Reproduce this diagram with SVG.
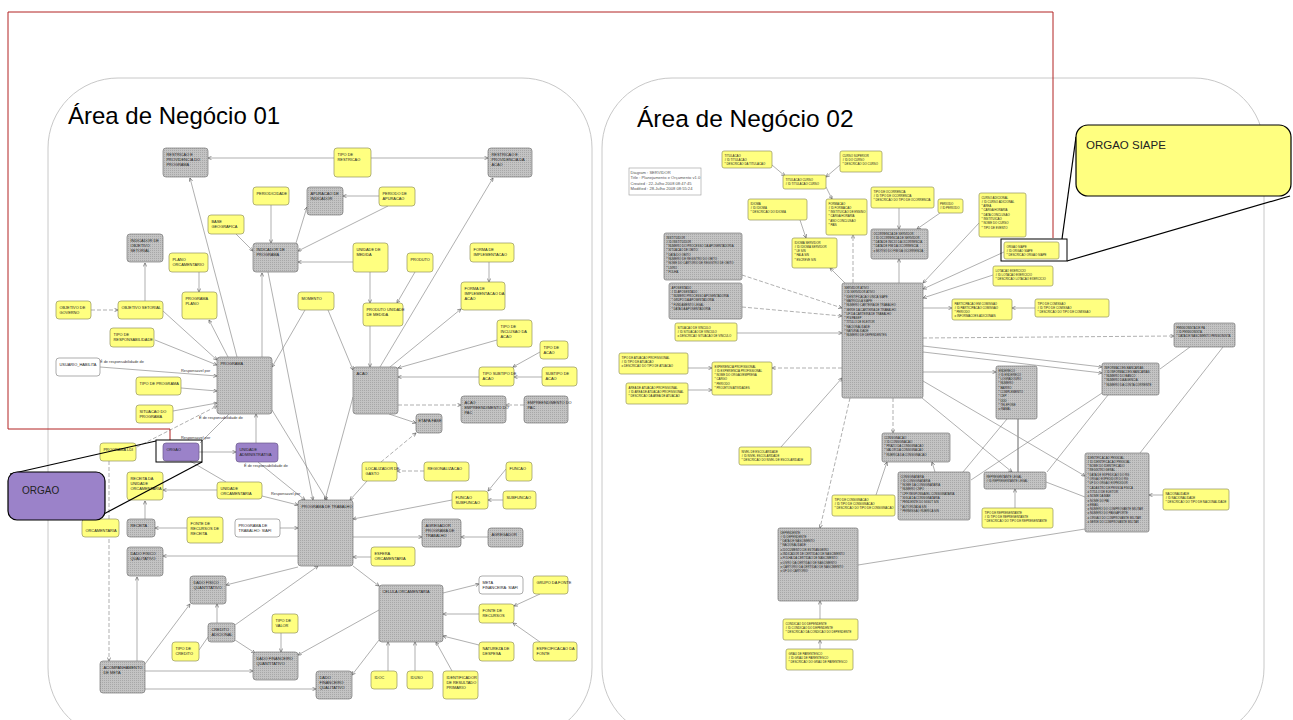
<svg xmlns="http://www.w3.org/2000/svg" width="1293" height="720" viewBox="0 0 1293 720">
<defs>
<pattern id="gp" width="2" height="2" patternUnits="userSpaceOnUse"><rect width="2" height="2" fill="#c3c3c3"/><rect width="1" height="1" fill="#a8a8a8"/></pattern>
<marker id="a" viewBox="0 0 6 6" refX="5.6" refY="3" markerWidth="4" markerHeight="4" orient="auto" markerUnits="userSpaceOnUse"><path d="M0.3,0.4 L5.6,3 L0.3,5.6" fill="none" stroke="#555" stroke-width="0.9"/></marker>
<style>
.g{fill:url(#gp);stroke:#7a7a7a;stroke-width:0.7}
.y{fill:#ffff80;stroke:#94945e;stroke-width:0.7}
.p{fill:#9b82c9;stroke:#6a5a8a;stroke-width:0.7}
.w{fill:#ffffff;stroke:#8a8a8a;stroke-width:0.7}
.t{font-family:"Liberation Sans",Arial,sans-serif;font-size:3.9px;fill:#222}
.r{font-family:"Liberation Sans",Arial,sans-serif;font-size:2.9px;fill:#222}
.lb{font-family:"Liberation Sans",Arial,sans-serif;font-size:3.9px;fill:#333}
.e{stroke:#7a7a7a;stroke-width:0.6;fill:none;marker-end:url(#a)}
.n{stroke:#7a7a7a;stroke-width:0.6;fill:none}
.d{stroke-dasharray:4 2}
.dbl{stroke:#a0a0a0;stroke-width:1.6;fill:none}
.panel{fill:none;stroke:#c8c8c8;stroke-width:1}
.co{stroke:#000;stroke-width:1.2;fill:none}
</style>
</defs>
<rect width="1293" height="720" fill="#fff"/>

<!-- panels -->
<rect class="panel" x="48" y="78" width="544" height="660" rx="70"/>
<rect class="panel" x="602" y="78" width="662" height="660" rx="70"/>
<text x="68" y="124" font-family="Liberation Sans, Arial, sans-serif" font-size="24" fill="#000">Área de Negócio 01</text>
<text x="637" y="127" font-family="Liberation Sans, Arial, sans-serif" font-size="24.5" fill="#000">Área de Negócio 02</text>

<!-- red frame -->
<path d="M170,440 V429 H8 V12 H1053 V238" fill="none" stroke="#b22222" stroke-width="1"/>

<!-- connectors -->
<g id="connectors">
<line class="e" x1="334" y1="158" x2="208" y2="158"/>
<line class="e" x1="371" y1="158" x2="488" y2="158"/>
<line class="e" x1="237" y1="357" x2="190" y2="178"/>
<line class="e" x1="380" y1="367" x2="493" y2="178"/>
<line class="e" x1="271" y1="205" x2="271" y2="243"/>
<line class="e" x1="296" y1="243" x2="307" y2="207"/>
<line class="e" x1="379" y1="196" x2="343" y2="196"/>
<line class="e" x1="388" y1="206" x2="298" y2="251"/>
<line class="e" x1="353" y1="262" x2="298" y2="262"/>
<line class="e" x1="236" y1="234" x2="253" y2="251"/>
<line class="e" x1="262" y1="357" x2="262" y2="273"/>
<line class="e" x1="145" y1="301" x2="145" y2="263"/>
<line class="e d" x1="91" y1="310" x2="118" y2="310"/>
<line class="e" x1="163" y1="311" x2="217" y2="360"/>
<line class="e" x1="199" y1="272" x2="199" y2="292"/>
<line class="e" x1="228" y1="357" x2="209" y2="320"/>
<line class="e" x1="305" y1="310" x2="272" y2="367"/>
<line class="e" x1="328" y1="310" x2="353" y2="370"/>
<line class="e" x1="370" y1="272" x2="370" y2="303"/>
<line class="e" x1="415" y1="272" x2="397" y2="303"/>
<line class="e" x1="370" y1="326" x2="370" y2="367"/>
<line class="e" x1="489" y1="262" x2="489" y2="282"/>
<line class="e" x1="390" y1="367" x2="461" y2="309"/>
<line class="e" x1="497" y1="340" x2="398" y2="368"/>
<line class="e" x1="540" y1="352" x2="513" y2="367"/>
<line class="e" x1="542" y1="377" x2="514" y2="377"/>
<line class="e" x1="479" y1="377" x2="398" y2="377"/>
<line class="e d" x1="398" y1="405" x2="461" y2="405"/>
<line class="e d" x1="524" y1="405" x2="506" y2="405"/>
<line class="e" x1="389" y1="414" x2="416" y2="423"/>
<line class="e d" x1="381" y1="462" x2="416" y2="433"/>
<line class="e d" x1="424" y1="471" x2="397" y2="471"/>
<line class="e" x1="367" y1="481" x2="350" y2="500"/>
<line class="e" x1="506" y1="469" x2="488" y2="491"/>
<line class="e" x1="503" y1="500" x2="488" y2="500"/>
<line class="e" x1="452" y1="500" x2="353" y2="519"/>
<line class="e" x1="353" y1="537" x2="422" y2="537"/>
<line class="e" x1="488" y1="537" x2="461" y2="537"/>
<line class="e" x1="371" y1="557" x2="353" y2="557"/>
<line class="e" x1="353" y1="566" x2="379" y2="586"/>
<line class="e" x1="353" y1="397" x2="325" y2="500"/>
<line class="e" x1="272" y1="410" x2="327" y2="500"/>
<line class="e" x1="268" y1="272" x2="313" y2="500"/>
<line class="e" x1="155" y1="340" x2="217" y2="365"/>
<line class="e" x1="100" y1="367" x2="217" y2="376"/>
<line class="e" x1="181" y1="388" x2="217" y2="391"/>
<line class="e" x1="173" y1="411" x2="217" y2="403"/>
<line class="e d" x1="137" y1="447" x2="217" y2="406"/>
<line class="n" x1="229" y1="414" x2="200" y2="443"/>
<line class="e" x1="256" y1="443" x2="256" y2="414"/>
<line class="e" x1="199" y1="452" x2="236" y2="452"/>
<line class="e" x1="258" y1="462" x2="305" y2="500"/>
<line class="n" x1="190" y1="461" x2="226" y2="482"/>
<line class="e" x1="217" y1="490" x2="163" y2="490"/>
<line class="e" x1="262" y1="496" x2="298" y2="505"/>
<line class="e" x1="145" y1="519" x2="145" y2="501"/>
<line class="e" x1="187" y1="528" x2="155" y2="528"/>
<line class="e" x1="280" y1="528" x2="298" y2="528"/>
<line class="e d" x1="109" y1="461" x2="109" y2="661"/>
<line class="e" x1="298" y1="556" x2="163" y2="556"/>
<line class="e" x1="137" y1="661" x2="137" y2="577"/>
<line class="e" x1="298" y1="567" x2="226" y2="585"/>
<line class="e" x1="217" y1="623" x2="217" y2="604"/>
<line class="e" x1="145" y1="664" x2="190" y2="604"/>
<line class="e" x1="235" y1="625" x2="318" y2="566"/>
<line class="n" x1="199" y1="650" x2="208" y2="637"/>
<line class="e" x1="235" y1="640" x2="255" y2="653"/>
<line class="e" x1="281" y1="633" x2="281" y2="652"/>
<line class="e" x1="379" y1="610" x2="298" y2="655"/>
<line class="e" x1="145" y1="671" x2="253" y2="671"/>
<line class="e" x1="145" y1="689" x2="316" y2="689"/>
<line class="e" x1="379" y1="640" x2="352" y2="675"/>
<line class="e" x1="443" y1="593" x2="479" y2="584"/>
<line class="e" x1="479" y1="614" x2="443" y2="614"/>
<line class="e" x1="479" y1="645" x2="443" y2="636"/>
<line class="e" x1="540" y1="594" x2="514" y2="606"/>
<line class="e" x1="540" y1="642" x2="513" y2="623"/>
<line class="e" x1="388" y1="671" x2="388" y2="642"/>
<line class="e" x1="415" y1="671" x2="415" y2="642"/>
<line class="e" x1="452" y1="671" x2="436" y2="642"/>
<!-- right panel -->
<line class="e" x1="772" y1="165" x2="785" y2="176"/>
<line class="e" x1="840" y1="165" x2="826" y2="177"/>
<line class="e" x1="826" y1="187" x2="832" y2="199"/>
<line class="e" x1="800" y1="220" x2="806" y2="238"/>
<line class="e d" x1="853" y1="283" x2="853" y2="235"/>
<line class="e" x1="845" y1="283" x2="830" y2="268"/>
<line class="e" x1="899" y1="208" x2="899" y2="229"/>
<line class="e" x1="940" y1="213" x2="917" y2="229"/>
<line class="e" x1="899" y1="283" x2="899" y2="259"/>
<line class="e" x1="979" y1="223" x2="923" y2="283"/>
<line class="e" x1="1004" y1="252" x2="923" y2="289"/>
<line class="e" x1="993" y1="275" x2="923" y2="298"/>
<line class="e d" x1="742" y1="275" x2="842" y2="308"/>
<line class="e d" x1="742" y1="307" x2="842" y2="316"/>
<line class="e" x1="737" y1="333" x2="842" y2="333"/>
<line class="e" x1="923" y1="308" x2="952" y2="308"/>
<line class="e" x1="1035" y1="308" x2="1012" y2="308"/>
<line class="e d" x1="923" y1="338" x2="1174" y2="336"/>
<line class="e" x1="923" y1="346" x2="1102" y2="367"/>
<line class="e" x1="923" y1="352" x2="1102" y2="373"/>
<line class="e" x1="923" y1="372" x2="996" y2="372"/>
<line class="e" x1="923" y1="381" x2="1085" y2="476"/>
<line class="e" x1="922" y1="398" x2="1012" y2="472"/>
<line class="n" x1="1007" y1="419" x2="963" y2="472"/>
<line class="dbl" x1="1018" y1="419" x2="1018" y2="472"/>
<line class="n" x1="1102" y1="393" x2="971" y2="480"/>
<line class="n" x1="1108" y1="395" x2="1047" y2="472"/>
<line class="n" x1="1160" y1="369" x2="1190" y2="347"/>
<line class="n" x1="1223" y1="347" x2="1140" y2="453"/>
<line class="n" x1="1046" y1="482" x2="1085" y2="497"/>
<line class="e" x1="1015" y1="508" x2="1015" y2="489"/>
<line class="e" x1="1163" y1="495" x2="1149" y2="495"/>
<line class="n" x1="858" y1="565" x2="1085" y2="529"/>
<line class="e d" x1="893" y1="398" x2="893" y2="433"/>
<line class="e d" x1="850" y1="398" x2="820" y2="528"/>
<line class="e" x1="781" y1="447" x2="842" y2="378"/>
<line class="e d" x1="842" y1="368" x2="772" y2="368"/>
<line class="e" x1="688" y1="368" x2="712" y2="368"/>
<line class="e" x1="688" y1="390" x2="712" y2="390"/>
<line class="e" x1="935" y1="472" x2="932" y2="462"/>
<line class="e" x1="876" y1="495" x2="887" y2="462"/>
<line class="e" x1="820" y1="619" x2="820" y2="601"/>
<line class="e" x1="820" y1="649" x2="820" y2="640"/>
</g>

<!-- relationship labels -->
<g id="labels" class="lb">
<text x="100" y="362.5">É de responsabilidade de</text>
<text x="181" y="371.5">Responsavel por</text>
<text x="199" y="419">É de responsabilidade de</text>
<text x="181" y="438.5">Responsavel por</text>
<text x="244" y="467">É de responsabilidade de</text>
<text x="271" y="494.5">Responsavel por</text>
</g>

<!-- left nodes -->
<g id="n-restr-prog"><rect class="g" x="163" y="148" width="45" height="29" rx="3"/><text class="t" x="166.5" y="155.5"><tspan x="166.5">RESTRICAO E</tspan><tspan x="166.5" dy="5.3">PROVIDENCIA DO</tspan><tspan x="166.5" dy="5.3">PROGRAMA</tspan></text></g>
<g id="n-tipo-restr"><rect class="y" x="334" y="148" width="37" height="29" rx="3"/><text class="t" x="337.5" y="155.5"><tspan x="337.5">TIPO DE</tspan><tspan x="337.5" dy="5.3">RESTRICAO</tspan></text></g>
<g id="n-restr-acao"><rect class="g" x="488" y="148" width="44" height="29" rx="3"/><text class="t" x="491.5" y="155.5"><tspan x="491.5">RESTRICAO E</tspan><tspan x="491.5" dy="5.3">PROVIDENCIA DA</tspan><tspan x="491.5" dy="5.3">ACAO</tspan></text></g>
<g id="n-periodicidade"><rect class="y" x="253" y="187" width="36" height="18" rx="3"/><text class="t" x="256.5" y="194.5">PERIODICIDADE</text></g>
<g id="n-apuracao"><rect class="g" x="307" y="187" width="36" height="28" rx="3"/><text class="t" x="310.5" y="194.5"><tspan x="310.5">APURACAO DE</tspan><tspan x="310.5" dy="5.3">INDICADOR</tspan></text></g>
<g id="n-periodo-apur"><rect class="y" x="379" y="187" width="36" height="19" rx="3"/><text class="t" x="382.5" y="194.5"><tspan x="382.5">PERIODO DE</tspan><tspan x="382.5" dy="5.3">APURACAO</tspan></text></g>
<g id="n-base-geo"><rect class="y" x="208" y="215" width="36" height="19" rx="3"/><text class="t" x="211.5" y="222.5"><tspan x="211.5">BASE</tspan><tspan x="211.5" dy="5.3">GEOGRAFICA</tspan></text></g>
<g id="n-ind-prog"><rect class="g" x="253" y="243" width="45" height="29" rx="3"/><text class="t" x="256.5" y="250.5"><tspan x="256.5">INDICADOR DE</tspan><tspan x="256.5" dy="5.3">PROGRAMA</tspan></text></g>
<g id="n-ind-obj"><rect class="g" x="127" y="234" width="36" height="28" rx="3"/><text class="t" x="130.5" y="241.5"><tspan x="130.5">INDICADOR DE</tspan><tspan x="130.5" dy="5.3">OBJETIVO</tspan><tspan x="130.5" dy="5.3">SETORIAL</tspan></text></g>
<g id="n-plano-orc"><rect class="y" x="169" y="253" width="39" height="19" rx="3"/><text class="t" x="172.5" y="260.5"><tspan x="172.5">PLANO</tspan><tspan x="172.5" dy="5.3">ORCAMENTARIO</tspan></text></g>
<g id="n-prog-plano"><rect class="y" x="182" y="292" width="35" height="27" rx="3"/><text class="t" x="185.5" y="299.5"><tspan x="185.5">PROGRAMA</tspan><tspan x="185.5" dy="5.3">PLANO</tspan></text></g>
<g id="n-momento"><rect class="y" x="298" y="292" width="36" height="18" rx="3"/><text class="t" x="301.5" y="299.5">MOMENTO</text></g>
<g id="n-obj-gov"><rect class="y" x="56" y="301" width="35" height="18" rx="3"/><text class="t" x="59.5" y="308.5"><tspan x="59.5">OBJETIVO DE</tspan><tspan x="59.5" dy="5.3">GOVERNO</tspan></text></g>
<g id="n-obj-set"><rect class="y" x="118" y="301" width="45" height="18" rx="3"/><text class="t" x="121.5" y="308.5">OBJETIVO SETORIAL</text></g>
<g id="n-unid-med"><rect class="y" x="353" y="243" width="35" height="29" rx="3"/><text class="t" x="356.5" y="250.5"><tspan x="356.5">UNIDADE DE</tspan><tspan x="356.5" dy="5.3">MEDIDA</tspan></text></g>
<g id="n-produto"><rect class="y" x="407" y="253" width="26" height="19" rx="3"/><text class="t" x="410.5" y="260.5">PRODUTO</text></g>
<g id="n-forma-impl"><rect class="y" x="470" y="243" width="44" height="19" rx="3"/><text class="t" x="473.5" y="250.5"><tspan x="473.5">FORMA DE</tspan><tspan x="473.5" dy="5.3">IMPLEMENTACAO</tspan></text></g>
<g id="n-forma-impl-acao"><rect class="y" x="461" y="282" width="44" height="28" rx="3"/><text class="t" x="464.5" y="289.5"><tspan x="464.5">FORMA DE</tspan><tspan x="464.5" dy="5.3">IMPLEMENTACAO DA</tspan><tspan x="464.5" dy="5.3">ACAO</tspan></text></g>
<g id="n-prod-unid"><rect class="y" x="363" y="303" width="40" height="23" rx="3"/><text class="t" x="366.5" y="310.5"><tspan x="366.5">PRODUTO UNIDADE</tspan><tspan x="366.5" dy="5.3">DE MEDIDA</tspan></text></g>
<g id="n-tipo-incl"><rect class="y" x="497" y="320" width="35" height="27" rx="3"/><text class="t" x="500.5" y="327.5"><tspan x="500.5">TIPO DE</tspan><tspan x="500.5" dy="5.3">INCLUSAO DA</tspan><tspan x="500.5" dy="5.3">ACAO</tspan></text></g>
<g id="n-tipo-resp"><rect class="y" x="110" y="328" width="44" height="19" rx="3"/><text class="t" x="113.5" y="335.5"><tspan x="113.5">TIPO DE</tspan><tspan x="113.5" dy="5.3">RESPONSABILIDADE</tspan></text></g>
<g id="n-usuario"><rect class="w" x="56" y="358" width="44" height="18" rx="3"/><text class="t" x="59.5" y="365.5">USUARIO_HABILITA</text></g>
<g id="n-programa"><rect class="g" x="217" y="357" width="55" height="57" rx="3"/><text class="t" x="220.5" y="364.5">PROGRAMA</text></g>
<g id="n-tipo-prog"><rect class="y" x="136" y="377" width="45" height="18" rx="3"/><text class="t" x="139.5" y="384.5">TIPO DE PROGRAMA</text></g>
<g id="n-sit-prog"><rect class="y" x="136" y="405" width="37" height="18" rx="3"/><text class="t" x="139.5" y="412.5"><tspan x="139.5">SITUACAO DO</tspan><tspan x="139.5" dy="5.3">PROGRAMA</tspan></text></g>
<g id="n-acao"><rect class="g" x="353" y="367" width="45" height="47" rx="3"/><text class="t" x="356.5" y="374.5">ACAO</text></g>
<g id="n-tipo-acao"><rect class="y" x="540" y="341" width="28" height="18" rx="3"/><text class="t" x="543.5" y="348.5"><tspan x="543.5">TIPO DE</tspan><tspan x="543.5" dy="5.3">ACAO</tspan></text></g>
<g id="n-tipo-subtipo"><rect class="y" x="479" y="367" width="35" height="19" rx="3"/><text class="t" x="482.5" y="374.5"><tspan x="482.5">TIPO SUBTIPO DE</tspan><tspan x="482.5" dy="5.3">ACAO</tspan></text></g>
<g id="n-subtipo"><rect class="y" x="542" y="367" width="35" height="19" rx="3"/><text class="t" x="545.5" y="374.5"><tspan x="545.5">SUBTIPO DE</tspan><tspan x="545.5" dy="5.3">ACAO</tspan></text></g>
<g id="n-acao-emp"><rect class="g" x="461" y="396" width="45" height="27" rx="3"/><text class="t" x="464.5" y="403.5"><tspan x="464.5">ACAO</tspan><tspan x="464.5" dy="5.3">EMPREENDIMENTO DO</tspan><tspan x="464.5" dy="5.3">PAC</tspan></text></g>
<g id="n-emp-pac"><rect class="g" x="524" y="396" width="44" height="27" rx="3"/><text class="t" x="527.5" y="403.5"><tspan x="527.5">EMPREENDIMENTO DO</tspan><tspan x="527.5" dy="5.3">PAC</tspan></text></g>
<g id="n-etapa"><rect class="g" x="416" y="414" width="26" height="19" rx="3"/><text class="t" x="418.5" y="421.5">ETAPA FASE</text></g>
<g id="n-orcamentaria"><rect class="y" x="82" y="519" width="37" height="18" rx="3"/><text class="t" x="85.5" y="532">ORCAMENTARIA</text></g>
<g id="n-prog-ldi"><rect class="y" x="100" y="443" width="36" height="18" rx="3"/><text class="t" x="103.5" y="450.5">PROGRAMA LDI</text></g>
<g id="n-orgao"><rect class="p" x="163" y="443" width="36" height="18" rx="3"/><text class="t" x="166.5" y="450.5">ORGAO</text></g>
<g id="n-unid-adm"><rect class="p" x="236" y="443" width="42" height="19" rx="3"/><text class="t" x="239.5" y="450.5"><tspan x="239.5">UNIDADE</tspan><tspan x="239.5" dy="5.3">ADMINISTRATIVA</tspan></text></g>
<g id="n-loc-gasto"><rect class="y" x="362" y="462" width="35" height="19" rx="3"/><text class="t" x="365.5" y="469.5"><tspan x="365.5">LOCALIZADOR DE</tspan><tspan x="365.5" dy="5.3">GASTO</tspan></text></g>
<g id="n-regional"><rect class="y" x="424" y="462" width="45" height="19" rx="3"/><text class="t" x="427.5" y="469.5">REGIONALIZACAO</text></g>
<g id="n-funcao"><rect class="y" x="506" y="462" width="26" height="19" rx="3"/><text class="t" x="509.5" y="469.5">FUNCAO</text></g>
<g id="n-receita-uo"><rect class="y" x="127" y="472" width="36" height="28" rx="3"/><text class="t" x="130.5" y="479.5"><tspan x="130.5">RECEITA DA</tspan><tspan x="130.5" dy="5.3">UNIDADE</tspan><tspan x="130.5" dy="5.3">ORCAMENTARIA</tspan></text></g>
<g id="n-unid-orc"><rect class="y" x="217" y="482" width="45" height="17" rx="3"/><text class="t" x="220.5" y="489.5"><tspan x="220.5">UNIDADE</tspan><tspan x="220.5" dy="5.3">ORCAMENTARIA</tspan></text></g>
<g id="n-func-subf"><rect class="y" x="452" y="491" width="36" height="18" rx="3"/><text class="t" x="455.5" y="498.5"><tspan x="455.5">FUNCAO</tspan><tspan x="455.5" dy="5.3">SUBFUNCAO</tspan></text></g>
<g id="n-subfuncao"><rect class="y" x="503" y="491" width="33" height="18" rx="3"/><text class="t" x="506.5" y="498.5">SUBFUNCAO</text></g>
<g id="n-prog-trab"><rect class="g" x="298" y="500" width="55" height="66" rx="3"/><text class="t" x="301.5" y="507.5">PROGRAMA DE TRABALHO</text></g>
<g id="n-receita"><rect class="g" x="127" y="519" width="28" height="18" rx="3"/><text class="t" x="130.5" y="526.5">RECEITA</text></g>
<g id="n-fonte-rec-rec"><rect class="y" x="187" y="517" width="36" height="26" rx="3"/><text class="t" x="190.5" y="524.5"><tspan x="190.5">FONTE DE</tspan><tspan x="190.5" dy="5.3">RECURSOS DE</tspan><tspan x="190.5" dy="5.3">RECEITA</tspan></text></g>
<g id="n-prog-trab-siafi"><rect class="w" x="235" y="519" width="45" height="18" rx="3"/><text class="t" x="238.5" y="526.5"><tspan x="238.5">PROGRAMA DE</tspan><tspan x="238.5" dy="5.3">TRABALHO: SIAFI</tspan></text></g>
<g id="n-agreg-pt"><rect class="g" x="422" y="519" width="39" height="28" rx="3"/><text class="t" x="425.5" y="526.5"><tspan x="425.5">AGREGADOR</tspan><tspan x="425.5" dy="5.3">PROGRAMA DE</tspan><tspan x="425.5" dy="5.3">TRABALHO</tspan></text></g>
<g id="n-agregador"><rect class="g" x="488" y="528" width="35" height="19" rx="3"/><text class="t" x="491.5" y="535.5">AGREGADOR</text></g>
<g id="n-dfq"><rect class="g" x="127" y="547" width="36" height="29" rx="3"/><text class="t" x="130.5" y="554.5"><tspan x="130.5">DADO FISICO</tspan><tspan x="130.5" dy="5.3">QUALITATIVO</tspan></text></g>
<g id="n-esfera"><rect class="y" x="371" y="547" width="44" height="19" rx="3"/><text class="t" x="374.5" y="554.5"><tspan x="374.5">ESFERA</tspan><tspan x="374.5" dy="5.3">ORCAMENTARIA</tspan></text></g>
<g id="n-dfquant"><rect class="g" x="190" y="576" width="36" height="28" rx="3"/><text class="t" x="193.5" y="583.5"><tspan x="193.5">DADO FISICO</tspan><tspan x="193.5" dy="5.3">QUANTITATIVO</tspan></text></g>
<g id="n-meta-fin"><rect class="w" x="479" y="576" width="44" height="18" rx="3"/><text class="t" x="482.5" y="583.5"><tspan x="482.5">META</tspan><tspan x="482.5" dy="5.3">FINANCEIRA: SIAFI</tspan></text></g>
<g id="n-grupo-fonte"><rect class="y" x="533" y="576" width="35" height="18" rx="3"/><text class="t" x="536.5" y="583.5">GRUPO DA FONTE</text></g>
<g id="n-celula"><rect class="g" x="379" y="585" width="64" height="57" rx="3"/><text class="t" x="382.5" y="592.5">CELULA ORCAMENTARIA</text></g>
<g id="n-fonte-rec"><rect class="y" x="479" y="604" width="35" height="19" rx="3"/><text class="t" x="482.5" y="611.5"><tspan x="482.5">FONTE DE</tspan><tspan x="482.5" dy="5.3">RECURSOS</tspan></text></g>
<g id="n-tipo-valor"><rect class="y" x="272" y="614" width="26" height="19" rx="3"/><text class="t" x="275.5" y="621.5"><tspan x="275.5">TIPO DE</tspan><tspan x="275.5" dy="5.3">VALOR</tspan></text></g>
<g id="n-cred-adic"><rect class="g" x="208" y="623" width="27" height="19" rx="3"/><text class="t" x="211.5" y="630.5"><tspan x="211.5">CREDITO</tspan><tspan x="211.5" dy="5.3">ADICIONAL</tspan></text></g>
<g id="n-natureza"><rect class="y" x="479" y="642" width="35" height="19" rx="3"/><text class="t" x="482.5" y="649.5"><tspan x="482.5">NATUREZA DE</tspan><tspan x="482.5" dy="5.3">DESPESA</tspan></text></g>
<g id="n-espec-fonte"><rect class="y" x="533" y="642" width="44" height="19" rx="3"/><text class="t" x="536.5" y="649.5"><tspan x="536.5">ESPECIFICACAO DA</tspan><tspan x="536.5" dy="5.3">FONTE</tspan></text></g>
<g id="n-tipo-cred"><rect class="y" x="172" y="642" width="27" height="19" rx="3"/><text class="t" x="175.5" y="649.5"><tspan x="175.5">TIPO DE</tspan><tspan x="175.5" dy="5.3">CREDITO</tspan></text></g>
<g id="n-dfin-quant"><rect class="g" x="253" y="652" width="45" height="28" rx="3"/><text class="t" x="256.5" y="659.5"><tspan x="256.5">DADO FINANCEIRO</tspan><tspan x="256.5" dy="5.3">QUANTITATIVO</tspan></text></g>
<g id="n-acomp"><rect class="g" x="100" y="661" width="45" height="32" rx="3"/><text class="t" x="103.5" y="668.5"><tspan x="103.5">ACOMPANHAMENTO</tspan><tspan x="103.5" dy="5.3">DE META</tspan></text></g>
<g id="n-dfin-qual"><rect class="g" x="316" y="671" width="36" height="28" rx="3"/><text class="t" x="319.5" y="678.5"><tspan x="319.5">DADO</tspan><tspan x="319.5" dy="5.3">FINANCEIRO</tspan><tspan x="319.5" dy="5.3">QUALITATIVO</tspan></text></g>
<g id="n-idoc"><rect class="y" x="371" y="671" width="26" height="18" rx="3"/><text class="t" x="374.5" y="678.5">IDOC</text></g>
<g id="n-iduso"><rect class="y" x="407" y="671" width="26" height="18" rx="3"/><text class="t" x="410.5" y="678.5">IDUSO</text></g>
<g id="n-ident-res"><rect class="y" x="443" y="671" width="35" height="28" rx="3"/><text class="t" x="446.5" y="678.5"><tspan x="446.5">IDENTIFICADOR</tspan><tspan x="446.5" dy="5.3">DE RESULTADO</tspan><tspan x="446.5" dy="5.3">PRIMARIO</tspan></text></g>

<!-- right panel: diagram info -->
<g id="n-info"><rect x="629" y="168" width="72" height="27" fill="#fff" stroke="#999" stroke-width="0.6"/><text font-family="Liberation Sans, Arial, sans-serif" font-size="4.1" fill="#555" x="630.5" y="173.5"><tspan x="630.5">Diagram : SERVIDOR</tspan><tspan x="630.5" dy="5.5">Title : Planejamento e Orçamento v1.0</tspan><tspan x="630.5" dy="5.5">Created : 22-Julho      2008 08:47:45</tspan><tspan x="630.5" dy="5.5">Modified : 28-Julho     2008 08:55:24</tspan></text></g>

<!-- right nodes -->
<g id="r-titulacao"><rect class="y" x="722" y="151" width="50" height="17" rx="2"/><text class="r" x="724.5" y="156.5"><tspan x="724.5">TITULACAO</tspan><tspan x="724.5" dy="4.3"># ID TITULACAO</tspan><tspan x="724.5" dy="4.3">* DESCRICAO DA TITULACAO</tspan></text></g>
<g id="r-curso-sup"><rect class="y" x="840" y="151" width="42" height="21" rx="2"/><text class="r" x="842.5" y="156.5"><tspan x="842.5">CURSO SUPERIOR</tspan><tspan x="842.5" dy="4.3"># ID DO CURSO</tspan><tspan x="842.5" dy="4.3">* DESCRICAO DO CURSO</tspan></text></g>
<g id="r-tit-curso"><rect class="y" x="783" y="175" width="43" height="14" rx="2"/><text class="r" x="785.5" y="180.5"><tspan x="785.5">TITULACAO CURSO</tspan><tspan x="785.5" dy="4.3"># ID TITULACAO CURSO</tspan></text></g>
<g id="r-idioma"><rect class="y" x="748" y="199" width="59" height="21" rx="2"/><text class="r" x="750.5" y="204.5"><tspan x="750.5">IDIOMA</tspan><tspan x="750.5" dy="4.3"># ID IDIOMA</tspan><tspan x="750.5" dy="4.3">* DESCRICAO DO IDIOMA</tspan></text></g>
<g id="r-formacao"><rect class="y" x="826" y="199" width="41" height="36" rx="2"/><text class="r" x="828.5" y="204.5"><tspan x="828.5">FORMACAO</tspan><tspan x="828.5" dy="4.3"># ID FORMACAO</tspan><tspan x="828.5" dy="4.3">* INSTITUICAO DE ENSINO</tspan><tspan x="828.5" dy="4.3">* CARGA HORARIA</tspan><tspan x="828.5" dy="4.3">* ANO CONCLUSAO</tspan><tspan x="828.5" dy="4.3">* PAIS</tspan></text></g>
<g id="r-tipo-ocor"><rect class="y" x="871" y="187" width="63" height="21" rx="2"/><text class="r" x="873.5" y="192.5"><tspan x="873.5">TIPO DE OCORRENCIA</tspan><tspan x="873.5" dy="4.3"># ID TIPO DE OCORRENCIA</tspan><tspan x="873.5" dy="4.3">* DESCRICAO DO TIPO DE OCORRENCIA</tspan></text></g>
<g id="r-periodo"><rect class="y" x="938" y="199" width="25" height="14" rx="2"/><text class="r" x="940" y="204.5"><tspan x="940">PERIODO</tspan><tspan x="940" dy="4.3"># ID PERIODO</tspan></text></g>
<g id="r-idioma-serv"><rect class="y" x="792" y="238" width="45" height="30" rx="2"/><text class="r" x="794.5" y="243.5"><tspan x="794.5">IDIOMA SERVIDOR</tspan><tspan x="794.5" dy="4.3"># ID IDIOMA SERVIDOR</tspan><tspan x="794.5" dy="4.3">* LE S/N</tspan><tspan x="794.5" dy="4.3">* FALA S/N</tspan><tspan x="794.5" dy="4.3">* ESCREVE S/N</tspan></text></g>
<g id="r-ocorrencia"><rect class="g" x="871" y="229" width="57" height="30" rx="2"/><text class="r" x="873.5" y="234.5"><tspan x="873.5">OCORRENCIA DE SERVIDOR</tspan><tspan x="873.5" dy="4.3"># ID OCORRENCIA DE SERVIDOR</tspan><tspan x="873.5" dy="4.3">* DATA DE INICIO DA OCORRENCIA</tspan><tspan x="873.5" dy="4.3">* DATA DE FIM DA OCORRENCIA</tspan><tspan x="873.5" dy="4.3">o MOTIVO DO FIM DA OCORRENCIA</tspan></text></g>
<g id="r-curso-adic"><rect class="y" x="979" y="193" width="47" height="44" rx="2"/><text class="r" x="981.5" y="198.5"><tspan x="981.5">CURSO ADICIONAL</tspan><tspan x="981.5" dy="4.3"># ID CURSO ADICIONAL</tspan><tspan x="981.5" dy="4.3">* AREA</tspan><tspan x="981.5" dy="4.3">* CARGA HORARIA</tspan><tspan x="981.5" dy="4.3">* DATA CONCLUSAO</tspan><tspan x="981.5" dy="4.3">* INSTITUICAO</tspan><tspan x="981.5" dy="4.3">* NOME DO CURSO</tspan><tspan x="981.5" dy="4.3">* TIPO DE EVENTO</tspan></text></g>
<g id="r-orgao-siape"><rect class="y" x="1004" y="242" width="55" height="17" rx="2"/><text class="r" x="1006.5" y="247.5"><tspan x="1006.5">ORGAO SIAPE</tspan><tspan x="1006.5" dy="4.3"># ID ORGAO SIAPE</tspan><tspan x="1006.5" dy="4.3">* DESCRICAO ORGAO SIAPE</tspan></text></g>
<g id="r-lotacao"><rect class="y" x="993" y="266" width="60" height="20" rx="2"/><text class="r" x="995.5" y="271.5"><tspan x="995.5">LOTACAO EXERCICIO</tspan><tspan x="995.5" dy="4.3"># ID LOTACAO EXERCICIO</tspan><tspan x="995.5" dy="4.3">* DESCRICAO LOTACAO EXERCICIO</tspan></text></g>
<g id="r-instituidor"><rect class="g" x="664" y="233" width="78" height="47" rx="2"/><text class="r" x="666.5" y="238.5"><tspan x="666.5">INSTITUIDOR</tspan><tspan x="666.5" dy="4.3"># ID INSTITUIDOR</tspan><tspan x="666.5" dy="4.3">* NUMERO DO PROCESSO DA APOSENTADORIA</tspan><tspan x="666.5" dy="4.3">* SITUACAO DE OBITO</tspan><tspan x="666.5" dy="4.3">* DATA DO OBITO</tspan><tspan x="666.5" dy="4.3">* NUMERO DE REGISTRO DO OBITO</tspan><tspan x="666.5" dy="4.3">* NOME DO CARTORIO DE REGISTRO DE OBITO</tspan><tspan x="666.5" dy="4.3">* LIVRO</tspan><tspan x="666.5" dy="4.3">* FOLHA</tspan></text></g>
<g id="r-aposentado"><rect class="g" x="669" y="283" width="73" height="36" rx="2"/><text class="r" x="671.5" y="288.5"><tspan x="671.5">APOSENTADO</tspan><tspan x="671.5" dy="4.3"># ID APOSENTADO</tspan><tspan x="671.5" dy="4.3">* NUMERO PROCESSO APOSENTADORIA</tspan><tspan x="671.5" dy="4.3">* GRUPO DA APOSENTADORIA</tspan><tspan x="671.5" dy="4.3">* FUNDAMENTO LEGAL</tspan><tspan x="671.5" dy="4.3">* DATA DA APOSENTADORIA</tspan></text></g>
<g id="r-sit-vinculo"><rect class="y" x="675" y="323" width="62" height="18" rx="2"/><text class="r" x="677.5" y="328.5"><tspan x="677.5">SITUACAO DE VINCULO</tspan><tspan x="677.5" dy="4.3"># ID SITUACAO DE VINCULO</tspan><tspan x="677.5" dy="4.3">o DESCRICAO SITUACAO DE VINCULO</tspan></text></g>
<g id="r-servidor"><rect class="g" x="842" y="283" width="81" height="115" rx="2"/><text class="r" x="844.5" y="289"><tspan x="844.5">SERVIDOR ATIVO</tspan><tspan x="844.5" dy="4.3"># ID SERVIDOR ATIVO</tspan><tspan x="844.5" dy="4.3">* IDENTIFICACAO UNICA SIAPE</tspan><tspan x="844.5" dy="4.3">* MATRICULA SIAPE</tspan><tspan x="844.5" dy="4.3">* NUMERO CARTEIRA DE TRABALHO</tspan><tspan x="844.5" dy="4.3">* SERIE DA CARTEIRA DE TRABALHO</tspan><tspan x="844.5" dy="4.3">* UF DA CARTEIRA DE TRABALHO</tspan><tspan x="844.5" dy="4.3">* PIS/PASEP</tspan><tspan x="844.5" dy="4.3">* TITULO DE ELEITOR</tspan><tspan x="844.5" dy="4.3">* NACIONALIDADE</tspan><tspan x="844.5" dy="4.3">* NATURALIDADE</tspan><tspan x="844.5" dy="4.3">* NUMERO DE DEPENDENTES</tspan></text></g>
<g id="r-particip"><rect class="y" x="952" y="299" width="60" height="21" rx="2"/><text class="r" x="954.5" y="304.5"><tspan x="954.5">PARTICIPACAO EM COMISSAO</tspan><tspan x="954.5" dy="4.3"># ID PARTICIPACAO COMISSAO</tspan><tspan x="954.5" dy="4.3">* PERIODO</tspan><tspan x="954.5" dy="4.3">o INFORMACOES ADICIONAIS</tspan></text></g>
<g id="r-tipo-comissao"><rect class="y" x="1035" y="299" width="74" height="18" rx="2"/><text class="r" x="1037.5" y="304.5"><tspan x="1037.5">TIPO DE COMISSAO</tspan><tspan x="1037.5" dy="4.3"># ID TIPO DE COMISSAO</tspan><tspan x="1037.5" dy="4.3">* DESCRICAO DO TIPO DE COMISSAO</tspan></text></g>
<g id="r-tipo-atuacao"><rect class="y" x="619" y="353" width="69" height="21" rx="2"/><text class="r" x="621.5" y="358.5"><tspan x="621.5">TIPO DE ATUACAO PROFISSIONAL</tspan><tspan x="621.5" dy="4.3"># ID TIPO DE ATUACAO</tspan><tspan x="621.5" dy="4.3">o DESCRICAO DO TIPO DE ATUACAO</tspan></text></g>
<g id="r-area-atuacao"><rect class="y" x="626" y="383" width="62" height="21" rx="2"/><text class="r" x="628.5" y="388.5"><tspan x="628.5">AREA DE ATUACAO PROFISSIONAL</tspan><tspan x="628.5" dy="4.3"># ID AREA DE ATUACAO PROFISSIONAL</tspan><tspan x="628.5" dy="4.3">* DESCRICAO DA AREA DE ATUACAO</tspan></text></g>
<g id="r-experiencia"><rect class="y" x="712" y="362" width="60" height="33" rx="2"/><text class="r" x="714.5" y="367.5"><tspan x="714.5">EXPERIENCIA PROFISSIONAL</tspan><tspan x="714.5" dy="4.3"># ID EXPERIENCIA PROFISSIONAL</tspan><tspan x="714.5" dy="4.3">* NOME DO ORGAO/EMPRESA</tspan><tspan x="714.5" dy="4.3">* CARGO</tspan><tspan x="714.5" dy="4.3">* PERIODO</tspan><tspan x="714.5" dy="4.3">* PROJETOS/ATIVIDADES</tspan></text></g>
<g id="r-pensionista"><rect class="g" x="1174" y="323" width="61" height="24" rx="2"/><text class="r" x="1176.5" y="328.5"><tspan x="1176.5">PENSIONISTA DE PA</tspan><tspan x="1176.5" dy="4.3"># ID PENSIONISTA</tspan><tspan x="1176.5" dy="4.3">* DATA DE NASCIMENTO PENSIONISTA</tspan></text></g>
<g id="r-endereco"><rect class="g" x="996" y="366" width="41" height="53" rx="2"/><text class="r" x="998.5" y="371.5"><tspan x="998.5">ENDERECO</tspan><tspan x="998.5" dy="4.3"># ID ENDERECO</tspan><tspan x="998.5" dy="4.3">* LOGRADOURO</tspan><tspan x="998.5" dy="4.3">* NUMERO</tspan><tspan x="998.5" dy="4.3">* BAIRRO</tspan><tspan x="998.5" dy="4.3">* COMPLEMENTO</tspan><tspan x="998.5" dy="4.3">* CEP</tspan><tspan x="998.5" dy="4.3">* DDD</tspan><tspan x="998.5" dy="4.3">* TELEFONE</tspan><tspan x="998.5" dy="4.3">o RAMAL</tspan></text></g>
<g id="r-info-banc"><rect class="g" x="1102" y="363" width="57" height="32" rx="2"/><text class="r" x="1104.5" y="368.5"><tspan x="1104.5">INFORMACOES BANCARIAS</tspan><tspan x="1104.5" dy="4.3"># ID INFORMACOES BANCARIAS</tspan><tspan x="1104.5" dy="4.3">* NUMERO DO BANCO</tspan><tspan x="1104.5" dy="4.3">* NUMERO DA AGENCIA</tspan><tspan x="1104.5" dy="4.3">* NUMERO DA CONTA CORRENTE</tspan></text></g>
<g id="r-nivel-esc"><rect class="y" x="739" y="447" width="72" height="18" rx="2"/><text class="r" x="741.5" y="452.5"><tspan x="741.5">NIVEL DE ESCOLARIDADE</tspan><tspan x="741.5" dy="4.3"># ID NIVEL ESCOLARIDADE</tspan><tspan x="741.5" dy="4.3">* DESCRICAO DO NIVEL DE ESCOLARIDADE</tspan></text></g>
<g id="r-consignacao"><rect class="g" x="882" y="433" width="68" height="29" rx="2"/><text class="r" x="884.5" y="438.5"><tspan x="884.5">CONSIGNACAO</tspan><tspan x="884.5" dy="4.3"># ID CONSIGNACAO</tspan><tspan x="884.5" dy="4.3">* PRAZO DA CONSIGNACAO</tspan><tspan x="884.5" dy="4.3">* VALOR DA CONSIGNACAO</tspan><tspan x="884.5" dy="4.3">* RUBRICA DA CONSIGNACAO</tspan></text></g>
<g id="r-consignataria"><rect class="g" x="898" y="472" width="72" height="48" rx="2"/><text class="r" x="900.5" y="477.5"><tspan x="900.5">CONSIGNATARIA</tspan><tspan x="900.5" dy="4.3"># ID CONSIGNATARIA</tspan><tspan x="900.5" dy="4.3">* NOME DA CONSIGNATARIA</tspan><tspan x="900.5" dy="4.3">* NUMERO CNPJ</tspan><tspan x="900.5" dy="4.3">* CPF RESPONSAVEL CONSIGNATARIA</tspan><tspan x="900.5" dy="4.3">* SIGLA DA CONSIGNATARIA</tspan><tspan x="900.5" dy="4.3">* PENDENTE DO SIGUT S/N</tspan><tspan x="900.5" dy="4.3">* AUTORIZADA S/N</tspan><tspan x="900.5" dy="4.3">* PERMISSAO RUBRICA S/N</tspan></text></g>
<g id="r-tipo-consig"><rect class="y" x="832" y="495" width="63" height="21" rx="2"/><text class="r" x="834.5" y="500.5"><tspan x="834.5">TIPO DE CONSIGNACAO</tspan><tspan x="834.5" dy="4.3"># ID TIPO DE CONSIGNACAO</tspan><tspan x="834.5" dy="4.3">* DESCRICAO DO TIPO DE CONSIGNACAO</tspan></text></g>
<g id="r-rep-legal"><rect class="g" x="984" y="472" width="62" height="17" rx="2"/><text class="r" x="986.5" y="477.5"><tspan x="986.5">REPRESENTANTE LEGAL</tspan><tspan x="986.5" dy="4.3"># ID REPRESENTANTE LEGAL</tspan></text></g>
<g id="r-tipo-rep"><rect class="y" x="982" y="508" width="71" height="20" rx="2"/><text class="r" x="984.5" y="513.5"><tspan x="984.5">TIPO DE REPRESENTANTE</tspan><tspan x="984.5" dy="4.3"># ID TIPO DE REPRESENTANTE</tspan><tspan x="984.5" dy="4.3">* DESCRICAO DO TIPO DE REPRESENTANTE</tspan></text></g>
<g id="r-ident-pessoal"><rect class="g" x="1085" y="453" width="64" height="79" rx="2"/><text class="r" x="1087.5" y="458.5"><tspan x="1087.5">IDENTIFICACAO PESSOAL</tspan><tspan x="1087.5" dy="4.3"># ID IDENTIFICACAO PESSOAL</tspan><tspan x="1087.5" dy="4.3">* NOME DO IDENTIFICADO</tspan><tspan x="1087.5" dy="4.3">* REGISTRO GERAL</tspan><tspan x="1087.5" dy="4.3">* DATA DE EXPEDICAO DO RG</tspan><tspan x="1087.5" dy="4.3">* ORGAO EXPEDIDOR DO RG</tspan><tspan x="1087.5" dy="4.3">* UF DO ORGAO EXPEDIDOR</tspan><tspan x="1087.5" dy="4.3">* CADASTRO DE PESSOA FISICA</tspan><tspan x="1087.5" dy="4.3">o TITULO DE ELEITOR</tspan><tspan x="1087.5" dy="4.3">o NOME DA MAE</tspan><tspan x="1087.5" dy="4.3">o NOME DO PAI</tspan><tspan x="1087.5" dy="4.3">o EMAIL</tspan><tspan x="1087.5" dy="4.3">o NUMERO DO COMPROVANTE MILITAR</tspan><tspan x="1087.5" dy="4.3">o NUMERO DO PASSAPORTE</tspan><tspan x="1087.5" dy="4.3">o ORGAO DO COMPROVANTE MILITAR</tspan><tspan x="1087.5" dy="4.3">o SERIE DO COMPROVANTE MILITAR</tspan></text></g>
<g id="r-nacionalidade"><rect class="y" x="1163" y="489" width="66" height="21" rx="2"/><text class="r" x="1165.5" y="494.5"><tspan x="1165.5">NACIONALIDADE</tspan><tspan x="1165.5" dy="4.3"># ID NACIONALIDADE</tspan><tspan x="1165.5" dy="4.3">* DESCRICAO DO TIPO DE NACIONALIDADE</tspan></text></g>
<g id="r-dependente"><rect class="g" x="778" y="528" width="80" height="73" rx="2"/><text class="r" x="780.5" y="533.5"><tspan x="780.5">DEPENDENTE</tspan><tspan x="780.5" dy="4.3"># ID DEPENDENTE</tspan><tspan x="780.5" dy="4.3">* DATA DE NASCIMENTO</tspan><tspan x="780.5" dy="4.3">* NACIONALIDADE</tspan><tspan x="780.5" dy="4.3">o DOCUMENTO DE ESTRANGEIRO</tspan><tspan x="780.5" dy="4.3">o INDICADOR DE CERTIDAO DE NASCIMENTO</tspan><tspan x="780.5" dy="4.3">o FOLHA DA CERTIDAO DE NASCIMENTO</tspan><tspan x="780.5" dy="4.3">o LIVRO DA CERTIDAO DE NASCIMENTO</tspan><tspan x="780.5" dy="4.3">o CARTORIO DA CERTIDAO DE NASCIMENTO</tspan><tspan x="780.5" dy="4.3">o UF DO CARTORIO</tspan></text></g>
<g id="r-condicao"><rect class="y" x="783" y="619" width="75" height="21" rx="2"/><text class="r" x="785.5" y="624.5"><tspan x="785.5">CONDICAO DO DEPENDENTE</tspan><tspan x="785.5" dy="4.3"># ID CONDICAO DO DEPENDENTE</tspan><tspan x="785.5" dy="4.3">* DESCRICAO DA CONDICAO DO DEPENDENTE</tspan></text></g>
<g id="r-grau"><rect class="y" x="786" y="649" width="67" height="21" rx="2"/><text class="r" x="788.5" y="654.5"><tspan x="788.5">GRAU DE PARENTESCO</tspan><tspan x="788.5" dy="4.3"># ID GRAU DE PARENTESCO</tspan><tspan x="788.5" dy="4.3">* DESCRICAO DO GRAU DE PARENTESCO</tspan></text></g>

<!-- callouts -->
<g id="callout-orgao">
<rect x="156" y="440" width="46" height="22" fill="none" stroke="#000" stroke-width="1"/>
<line class="co" x1="10" y1="474" x2="156" y2="441"/>
<line class="co" x1="100" y1="516" x2="202" y2="462"/>
<rect x="8" y="472" width="97" height="48" rx="9" fill="#9b82c9" stroke="#000" stroke-width="1.2"/>
<text x="22" y="494" font-family="Liberation Sans, Arial, sans-serif" font-size="10" fill="#222">ORGAO</text>
</g>
<g id="callout-orgao-siape">
<rect x="1001" y="239" width="66" height="22" fill="none" stroke="#000" stroke-width="1"/>
<line class="co" x1="1076" y1="137" x2="1062" y2="239"/>
<line class="co" x1="1290" y1="196" x2="1067" y2="261"/>
<rect x="1076" y="125" width="215" height="71" rx="12" fill="#ffff80" stroke="#000" stroke-width="1.2"/>
<text x="1086" y="149" font-family="Liberation Sans, Arial, sans-serif" font-size="11.5" fill="#222">ORGAO SIAPE</text>
</g>
</svg>
